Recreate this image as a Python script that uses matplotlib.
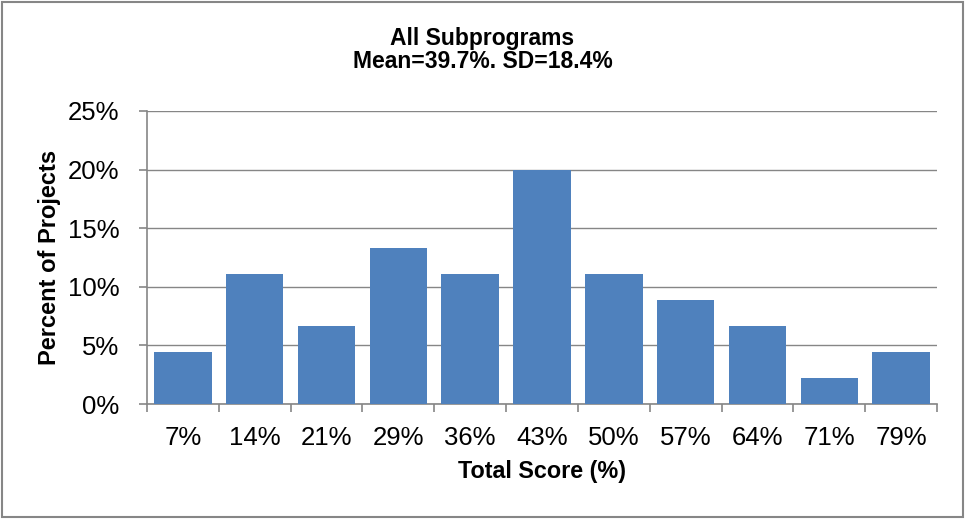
import numpy as np
import matplotlib
matplotlib.use("Agg")
import matplotlib.pyplot as plt
from matplotlib.patches import Rectangle
from matplotlib.ticker import FuncFormatter

plt.rcParams['font.family'] = ['Liberation Sans', 'DejaVu Sans']

# data (45 projects)
score_labels = ['7%', '14%', '21%', '29%', '36%', '43%', '50%', '57%', '64%', '71%', '79%']
pct_projects = [4.44, 11.11, 6.67, 13.33, 11.11, 20.0, 11.11, 8.89, 6.67, 2.22, 4.44]

grey = '#868686'
bar_col = '#4F81BD'

fig = plt.figure(figsize=(9.65, 5.19), dpi=100)
ax = fig.add_axes([147/965, 1 - 404/519, (937 - 147)/965, (404 - 111)/519])

x = np.arange(len(score_labels))
ax.bar(x, pct_projects, width=0.8, color=bar_col, zorder=3)

ax.set_xlim(-0.5, len(score_labels) - 0.5)
ax.set_ylim(0, 25)
ax.set_yticks(np.arange(0, 26, 5))
ax.yaxis.set_major_formatter(FuncFormatter(lambda v, p: '%d%%' % v))
ax.grid(axis='y', color=grey, linewidth=1.0, zorder=0)

ax.set_xticks(x)
ax.set_xticklabels(score_labels)
ax.set_xticks(np.arange(-0.5, len(score_labels)), minor=True)
ax.tick_params(axis='x', which='major', length=0, pad=16, labelsize=18.5)
ax.tick_params(axis='x', which='minor', length=6, width=1.2, color=grey, direction='out')
ax.tick_params(axis='y', length=6, width=1.2, color=grey, pad=14, labelsize=18.5)

for s in ['top', 'right']:
    ax.spines[s].set_visible(False)
for s in ['left', 'bottom']:
    ax.spines[s].set_color(grey)
    ax.spines[s].set_linewidth(1.2)

ax.set_xlabel('Total Score (%)', fontsize=16.8, fontweight='bold', labelpad=7)
ax.set_ylabel('Percent of Projects', fontsize=17, fontweight='bold', labelpad=5)

fig.text(0.5, 1 - 39/519, 'All Subprograms', ha='center', va='center',
         fontsize=16.5, fontweight='bold')
fig.text(0.5, 1 - 61/519, 'Mean=39.7%. SD=18.4%', ha='center', va='center',
         fontsize=16.5, fontweight='bold')

fig.patches.append(Rectangle((2/965, 2/519), 961/965, 515/519, transform=fig.transFigure,
                             fill=False, edgecolor=grey, linewidth=1.5))

fig.savefig('out.png', dpi=100)
